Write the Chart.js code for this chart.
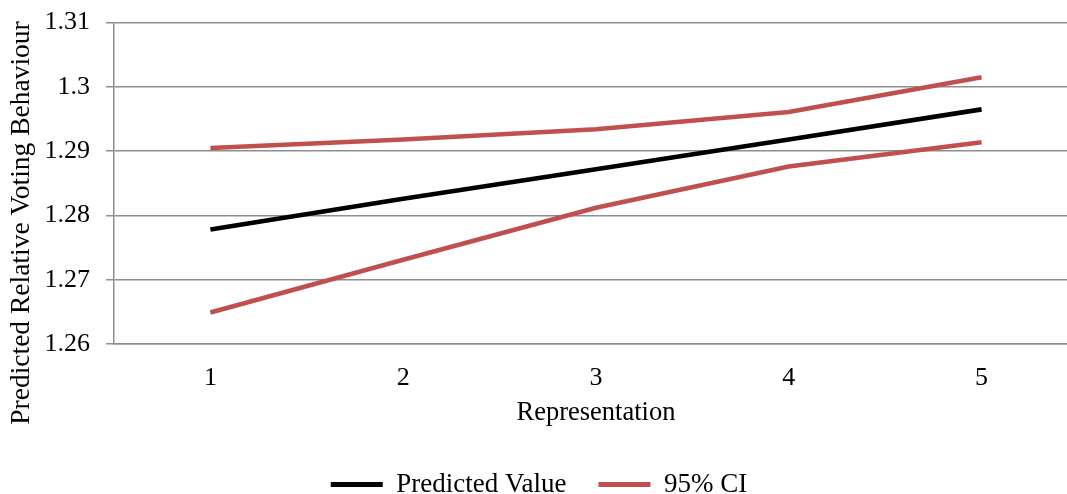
<!DOCTYPE html>
<html>
<head>
<meta charset="utf-8">
<script src="https://cdn.jsdelivr.net/npm/chart.js@4/dist/chart.umd.min.js"></script>
<style>
  html, body { margin: 0; padding: 0; background: #fff; overflow: hidden; }
  #wrap { width: 1067px; height: 494px; overflow: hidden; }
  #c { display: block; margin-top: -9px; }
</style>
</head>
<body>
<div id="wrap"><canvas id="c" width="1078" height="517"></canvas></div>
<script>
// Representation levels on the x axis
const categories = ['1', '2', '3', '4', '5'];
// Predicted relative voting behaviour and its 95% confidence band
const predicted = [1.2778, 1.2826, 1.2872, 1.2918, 1.2965];
const ciUpper   = [1.2905, 1.2918, 1.2934, 1.2961, 1.3015];
const ciLower   = [1.2649, 1.2731, 1.2812, 1.2876, 1.2914];
// Y axis range and tick step
const yMin = 1.26, yMax = 1.31, yStep = 0.01;

const serif = 'Liberation Serif, "Times New Roman", serif';
const gridColor = '#8e8e8e';
const red = '#C0504D';

// Rotated y-axis title, centred a little below the plot's middle
const yTitlePlugin = {
  id: 'yTitle',
  afterDraw(chart) {
    const ctx = chart.ctx;
    ctx.save();
    ctx.translate(22, 232);
    ctx.rotate(-Math.PI / 2);
    ctx.font = '27.5px ' + serif;
    ctx.fillStyle = '#000';
    ctx.textAlign = 'center';
    ctx.textBaseline = 'middle';
    ctx.fillText('Predicted Relative Voting Behaviour', 0, 0);
    ctx.restore();
  }
};

new Chart(document.getElementById('c'), {
  type: 'line',
  data: {
    labels: categories,
    datasets: [
      { label: 'Predicted Value', data: predicted, borderColor: '#000', backgroundColor: '#000',
        borderWidth: 4.6, pointRadius: 0, tension: 0, order: 0 },
      { label: '95% CI', data: ciUpper, borderColor: red, backgroundColor: red,
        borderWidth: 4.5, pointRadius: 0, tension: 0, order: 1 },
      { label: '95% CI (lower)', data: ciLower, borderColor: red, backgroundColor: red,
        borderWidth: 4.5, pointRadius: 0, tension: 0, order: 1 }
    ]
  },
  options: {
    responsive: false,
    animation: false,
    layout: { padding: { top: 14, left: 0, right: 0, bottom: 0 } },
    plugins: {
      tooltip: { enabled: false },
      legend: {
        position: 'bottom',
        labels: {
          font: { family: serif, size: 27 },
          color: '#000',
          boxWidth: 52,
          boxHeight: 5,
          padding: 32,
          generateLabels(chart) {
            const items = Chart.defaults.plugins.legend.labels.generateLabels(chart);
            return items
              .filter(i => i.datasetIndex !== 2)
              .map(i => Object.assign(i, { fillStyle: i.strokeStyle, lineWidth: 0 }));
          }
        }
      }
    },
    scales: {
      x: {
        offset: true,
        afterFit(scale) { scale.height = 95; },
        grid: { display: false, drawTicks: false },
        border: { display: true, color: gridColor, width: 1.5 },
        ticks: { font: { family: serif, size: 26 }, color: '#000', padding: 19, maxRotation: 0 },
        title: { display: true, text: 'Representation', font: { family: serif, size: 26.5 },
                 color: '#000', padding: { top: 0, bottom: 10 } }
      },
      y: {
        min: yMin,
        max: yMax,
        afterFit(scale) { scale.width = 114; },
        grid: { color: gridColor, lineWidth: 1.5, tickLength: 8, drawTicks: true },
        border: { display: true, color: gridColor, width: 1.5 },
        ticks: {
          stepSize: yStep,
          font: { family: serif, size: 26 },
          color: '#000',
          padding: 16,
          callback: v => String(Number(v.toFixed(2)))
        }
      }
    }
  },
  plugins: [yTitlePlugin]
});
</script>
</body>
</html>
